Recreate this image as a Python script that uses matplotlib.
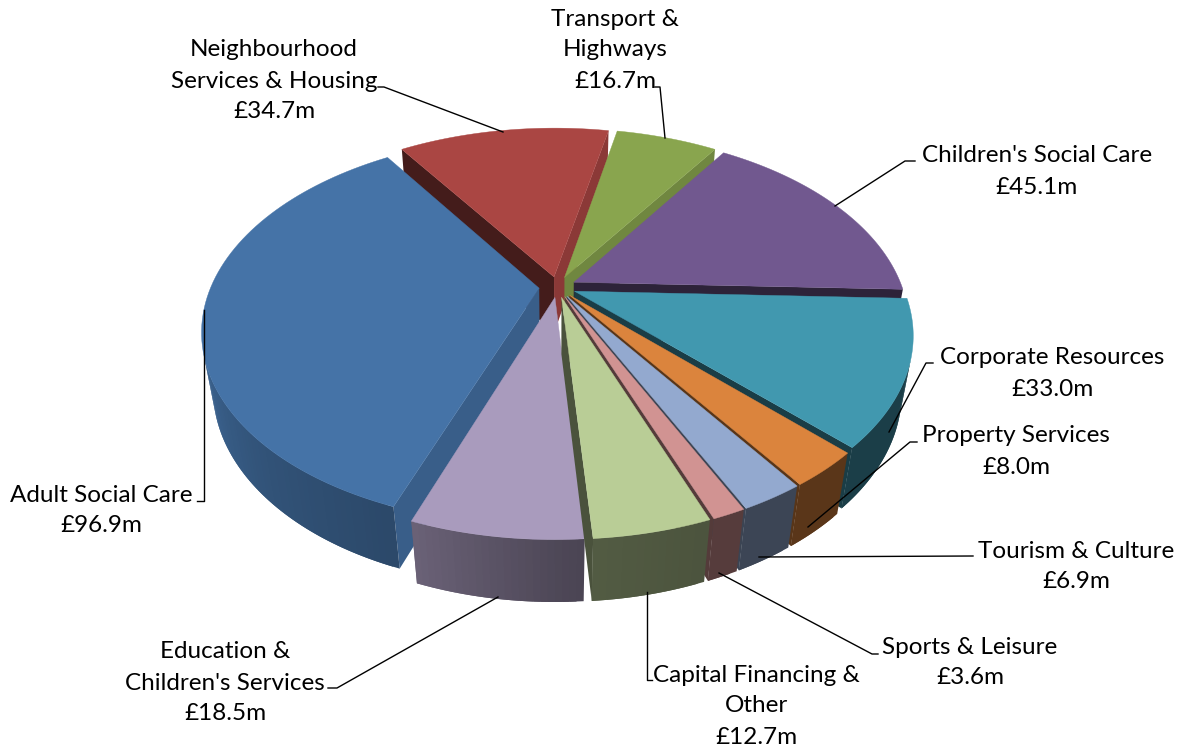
import numpy as np
import matplotlib
matplotlib.use("Agg")
import matplotlib.pyplot as plt
from matplotlib.colors import to_rgb

plt.rcParams['font.family'] = ['Lato', 'DejaVu Sans']

# data, clockwise from the start angle
categories = ["Adult Social Care", "Neighbourhood Services & Housing", "Transport & Highways",
              "Children's Social Care", "Corporate Resources", "Property Services",
              "Tourism & Culture", "Sports & Leisure", "Capital Financing & Other",
              "Education & Children's Services"]
values = [96.9, 34.7, 16.7, 45.1, 33.0, 8.0, 6.9, 3.6, 12.7, 18.5]
colors = ["#4573A7", "#AA4643", "#89A54E", "#71588F", "#4198AF",
          "#DB843D", "#93A9CF", "#D19392", "#B9CD96", "#A99BBD"]

label_lines = [["Adult Social Care", "£96.9m"],
               ["Neighbourhood", "Services & Housing", "£34.7m"],
               ["Transport &", "Highways", "£16.7m"],
               ["Children's Social Care", "£45.1m"],
               ["Corporate Resources", "£33.0m"],
               ["Property Services", "£8.0m"],
               ["Tourism & Culture", "£6.9m"],
               ["Sports & Leisure", "£3.6m"],
               ["Capital Financing &", "Other", "£12.7m"],
               ["Education &", "Children's Services", "£18.5m"]]
label_x = [101, 274, 615, 1037, 1052, 1016, 1076, 970, 756, 225]
label_y = [495, 50, 19, 156, 358, 436, 551, 647, 675, 652]
LINE_H = 31

leaders = [[(197, 501), (204, 501), (204, 310)],
           [(378, 87), (384, 87), (503, 132)],
           [(655, 87), (660, 87), (665, 138)],
           [(915, 161), (905, 161), (835, 206)],
           [(933, 363), (926, 363), (889, 432)],
           [(917, 442), (910, 442), (808, 527)],
           [(973, 556), (759, 557)],
           [(878, 654), (872, 654), (719, 573)],
           [(652, 680), (647, 680), (647, 592)],
           [(328, 688), (337, 688), (498, 597)]]

START_ANGLE = 250.0
EXPLODE = 0.055
RADIUS = 0.98
HEIGHT = 0.21
FRONT_ANGLE = -78  # slices nearest this direction get painted last

# camera
CX, CY = 557.5, 287
F = 335
ELEV = np.radians(34.26)
DIST = 3.757
s, c = np.sin(ELEV), np.cos(ELEV)


def project(x, y, z):
    w = 1 + c / DIST * y - s / DIST * z
    return CX + F * x / w, CY - F * (s * y + c * z) / w


CAMERA = np.array([0, -DIST * c, DIST * s])


def facing(p, n):
    return np.dot(CAMERA - np.array([p[0], p[1], 0]), [n[0], n[1], 0]) > 0


def arc_shade(deg):
    deg = deg % 360
    return np.interp(deg, [90, 180, 200, 225, 250, 272, 290, 450],
                     [.41, .95, .85, .72, .63, .45, .41, .41])


def quad(ax, xs, ys, col):
    px, py = project(np.array(xs), np.array(ys), np.array([0, 0, -HEIGHT, -HEIGHT]))
    ax.fill(px, py, facecolor=col, edgecolor='none', lw=0)


def radial_wall(ax, ox, oy, ang, normal, base):
    ca, sa = np.cos(np.radians(ang)), np.sin(np.radians(ang))
    if not facing((ox, oy), normal):
        return
    f = .82 if normal[0] > .5 else .4
    ex, ey = ox + RADIUS * ca, oy + RADIUS * sa
    quad(ax, [ox, ex, ex, ox], [oy, ey, ey, oy], tuple(base * f))


def draw_slice(ax, a0, a1, color):
    # a0 > a1, clockwise
    base = np.array(to_rgb(color))
    mid = np.radians((a0 + a1) / 2)
    ox, oy = EXPLODE * np.cos(mid), EXPLODE * np.sin(mid)

    n0 = (-np.sin(np.radians(a0)), np.cos(np.radians(a0)))
    n1 = (np.sin(np.radians(a1)), -np.cos(np.radians(a1)))
    radial_wall(ax, ox, oy, a0, n0, base)
    radial_wall(ax, ox, oy, a1, n1, base)

    steps = np.linspace(a0, a1, max(int((a0 - a1) / 1.0), 2) + 1)
    step = steps[0] - steps[1]
    for d0, d1 in zip(steps[:-1], steps[1:]):
        dm = np.radians((d0 + d1) / 2)
        pm = (ox + RADIUS * np.cos(dm), oy + RADIUS * np.sin(dm))
        if not facing(pm, (np.cos(dm), np.sin(dm))):
            continue
        # each strip runs under the next one so no seams show
        d_end = max(d1 - step, a1)
        x0, y0 = ox + RADIUS * np.cos(np.radians(d0)), oy + RADIUS * np.sin(np.radians(d0))
        x1, y1 = ox + RADIUS * np.cos(np.radians(d_end)), oy + RADIUS * np.sin(np.radians(d_end))
        quad(ax, [x0, x1, x1, x0], [y0, y1, y1, y0], tuple(base * arc_shade((d0 + d1) / 2)))

    th = np.radians(np.linspace(a0, a1, 80))
    tx = np.r_[ox, ox + RADIUS * np.cos(th)]
    ty = np.r_[oy, oy + RADIUS * np.sin(th)]
    px, py = project(tx, ty, np.zeros_like(tx))
    ax.fill(px, py, facecolor=color, edgecolor=color, lw=0.3)


def main():
    fig = plt.figure(figsize=(11.86, 7.49), dpi=100)
    ax = fig.add_axes([0, 0, 1, 1])
    ax.set_xlim(0, 1186)
    ax.set_ylim(749, 0)
    ax.axis('off')

    sweep = np.array(values) / sum(values) * 360
    ends = START_ANGLE - np.cumsum(sweep)
    starts = ends + sweep
    mids = (starts + ends) / 2

    order = np.argsort(np.cos(np.radians(mids - FRONT_ANGLE)))
    for i in order:
        draw_slice(ax, starts[i], ends[i], colors[i])

    for pts in leaders:
        xs, ys = zip(*pts)
        ax.plot(xs, ys, color='black', lw=1.0)

    for lines, x, y in zip(label_lines, label_x, label_y):
        for j, line in enumerate(lines):
            ax.text(x, y + j * LINE_H, line, ha='center', va='center',
                    fontsize=17.5, color='black')

    fig.savefig("out.png", dpi=100)


if __name__ == "__main__":
    main()
